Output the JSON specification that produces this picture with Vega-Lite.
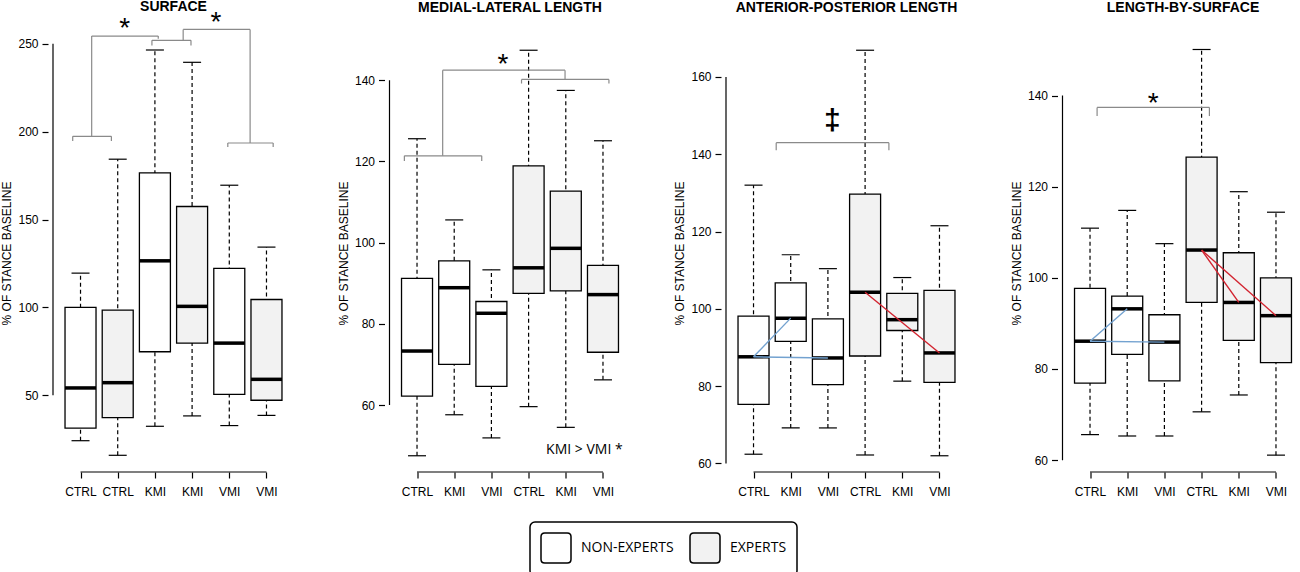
{
"$schema":"https://vega.github.io/schema/vega-lite/v6.json",
"background":"white",
"padding":{"left":0,"top":0,"right":0,"bottom":0},
"bounds":"flush",
"spacing":85.5,
"datasets":{
"boxes":[
{"panel":"p1","pos":1,"group":"NON-EXPERTS","lower":24.2,"q1":31.3,"median":54.2,"q3":100,"upper":119.5},
{"panel":"p1","pos":2,"group":"EXPERTS","lower":15.9,"q1":37.3,"median":57.2,"q3":98.5,"upper":184.3},
{"panel":"p1","pos":3,"group":"NON-EXPERTS","lower":32.4,"q1":74.8,"median":126.5,"q3":176.5,"upper":246.4},
{"panel":"p1","pos":4,"group":"EXPERTS","lower":38.3,"q1":79.7,"median":100.6,"q3":157.4,"upper":239.4},
{"panel":"p1","pos":5,"group":"NON-EXPERTS","lower":32.8,"q1":50.6,"median":79.7,"q3":122.2,"upper":169.5},
{"panel":"p1","pos":6,"group":"EXPERTS","lower":38.6,"q1":47.2,"median":59.1,"q3":104.5,"upper":134.3},
{"panel":"p2","pos":1,"group":"NON-EXPERTS","lower":47.5,"q1":62.2,"median":73.3,"q3":91.2,"upper":125.6},
{"panel":"p2","pos":2,"group":"NON-EXPERTS","lower":57.6,"q1":70.0,"median":88.9,"q3":95.5,"upper":105.6},
{"panel":"p2","pos":3,"group":"NON-EXPERTS","lower":51.9,"q1":64.6,"median":82.6,"q3":85.5,"upper":93.3},
{"panel":"p2","pos":4,"group":"EXPERTS","lower":59.6,"q1":87.5,"median":93.8,"q3":118.9,"upper":147.4},
{"panel":"p2","pos":5,"group":"EXPERTS","lower":54.5,"q1":88.1,"median":98.6,"q3":112.7,"upper":137.5},
{"panel":"p2","pos":6,"group":"EXPERTS","lower":66.2,"q1":73.0,"median":87.2,"q3":94.4,"upper":125.1},
{"panel":"p3","pos":1,"group":"NON-EXPERTS","lower":62.4,"q1":75.3,"median":87.6,"q3":98.1,"upper":132.0},
{"panel":"p3","pos":2,"group":"NON-EXPERTS","lower":69.2,"q1":91.6,"median":97.6,"q3":106.7,"upper":114.0},
{"panel":"p3","pos":3,"group":"NON-EXPERTS","lower":69.2,"q1":80.4,"median":87.3,"q3":97.4,"upper":110.4},
{"panel":"p3","pos":4,"group":"EXPERTS","lower":62.2,"q1":87.8,"median":104.3,"q3":129.7,"upper":166.9},
{"panel":"p3","pos":5,"group":"EXPERTS","lower":81.3,"q1":94.4,"median":97.2,"q3":104.0,"upper":108.1},
{"panel":"p3","pos":6,"group":"EXPERTS","lower":62.0,"q1":81.0,"median":88.6,"q3":104.8,"upper":121.5},
{"panel":"p4","pos":1,"group":"NON-EXPERTS","lower":65.6,"q1":76.9,"median":86.1,"q3":97.7,"upper":110.9},
{"panel":"p4","pos":2,"group":"NON-EXPERTS","lower":65.3,"q1":83.2,"median":93.2,"q3":96.0,"upper":114.8},
{"panel":"p4","pos":3,"group":"NON-EXPERTS","lower":65.3,"q1":77.4,"median":85.9,"q3":91.9,"upper":107.5},
{"panel":"p4","pos":4,"group":"EXPERTS","lower":70.6,"q1":94.6,"median":106.1,"q3":126.5,"upper":150.1},
{"panel":"p4","pos":5,"group":"EXPERTS","lower":74.3,"q1":86.3,"median":94.6,"q3":105.5,"upper":118.9},
{"panel":"p4","pos":6,"group":"EXPERTS","lower":61.1,"q1":81.4,"median":91.7,"q3":100.0,"upper":114.4}
],
"links":[
{"panel":"p3","group":"NON-EXPERTS","x":1,"y":87.6,"x2":2,"y2":97.6},
{"panel":"p3","group":"NON-EXPERTS","x":1,"y":87.6,"x2":3,"y2":87.3},
{"panel":"p3","group":"EXPERTS","x":4,"y":104.3,"x2":6,"y2":88.6},
{"panel":"p4","group":"NON-EXPERTS","x":1,"y":86.1,"x2":2,"y2":93.2},
{"panel":"p4","group":"NON-EXPERTS","x":1,"y":86.1,"x2":3,"y2":85.9},
{"panel":"p4","group":"EXPERTS","x":4,"y":106.1,"x2":5,"y2":94.6},
{"panel":"p4","group":"EXPERTS","x":4,"y":106.1,"x2":6,"y2":91.7}
],
"segs":[
{"panel":"p1","x":0.79,"y":197.3,"x2":1.83,"y2":197.3},
{"panel":"p1","x":0.79,"y":197.3,"x2":0.79,"y2":194.6},
{"panel":"p1","x":1.83,"y":197.3,"x2":1.83,"y2":194.6},
{"panel":"p1","x":1.30,"y":197.3,"x2":1.30,"y2":254.3},
{"panel":"p1","x":1.30,"y":254.3,"x2":3.09,"y2":254.3},
{"panel":"p1","x":3.09,"y":254.3,"x2":3.09,"y2":252.8},
{"panel":"p1","x":2.92,"y":251.9,"x2":3.97,"y2":251.9},
{"panel":"p1","x":2.92,"y":251.9,"x2":2.92,"y2":249.0},
{"panel":"p1","x":3.97,"y":251.9,"x2":3.97,"y2":249.0},
{"panel":"p1","x":3.76,"y":251.9,"x2":3.76,"y2":258.1},
{"panel":"p1","x":3.76,"y":258.1,"x2":5.56,"y2":258.1},
{"panel":"p1","x":5.56,"y":258.1,"x2":5.56,"y2":193.5},
{"panel":"p1","x":4.96,"y":193.5,"x2":6.18,"y2":193.5},
{"panel":"p1","x":4.96,"y":193.5,"x2":4.96,"y2":191.2},
{"panel":"p1","x":6.18,"y":193.5,"x2":6.18,"y2":191.2},
{"panel":"p2","x":0.66,"y":121.4,"x2":2.74,"y2":121.4},
{"panel":"p2","x":0.66,"y":121.4,"x2":0.66,"y2":120.1},
{"panel":"p2","x":2.74,"y":121.4,"x2":2.74,"y2":120.1},
{"panel":"p2","x":1.69,"y":121.4,"x2":1.69,"y2":142.5},
{"panel":"p2","x":1.69,"y":142.5,"x2":4.98,"y2":142.5},
{"panel":"p2","x":4.98,"y":142.5,"x2":4.98,"y2":140.2},
{"panel":"p2","x":3.81,"y":140.2,"x2":6.16,"y2":140.2},
{"panel":"p2","x":3.81,"y":140.2,"x2":3.81,"y2":139.2},
{"panel":"p2","x":6.16,"y":140.2,"x2":6.16,"y2":139.2},
{"panel":"p3","x":1.61,"y":143.0,"x2":4.64,"y2":143.0},
{"panel":"p3","x":1.61,"y":143.0,"x2":1.61,"y2":141.0},
{"panel":"p3","x":4.64,"y":143.0,"x2":4.64,"y2":141.0},
{"panel":"p4","x":1.19,"y":137.4,"x2":4.21,"y2":137.4},
{"panel":"p4","x":1.19,"y":137.4,"x2":1.19,"y2":135.5},
{"panel":"p4","x":4.21,"y":137.4,"x2":4.21,"y2":135.5}
],
"notes":[
{"panel":"p1","kind":"star","x":2.19,"y":262.7,"text":"*"},
{"panel":"p1","kind":"star","x":4.64,"y":266.5,"text":"*"},
{"panel":"p2","kind":"star","x":3.31,"y":145.7,"text":"*"},
{"panel":"p2","kind":"note","x":5.5,"y":48.9,"text":"KMI > VMI *"},
{"panel":"p3","kind":"dagger","x":3.12,"y":148.6,"text":"‡"},
{"panel":"p4","kind":"star","x":2.70,"y":139.9,"text":"*"}
]
},
"hconcat":[
{
"width":251,"height":438,
"title":{"text":"SURFACE","frame":"group","anchor":"middle","baseline":"alphabetic","offset":-16.6},
"layer":[
{"data":{"name":"boxes"},"transform":[{"filter":"datum.panel==='p1'"}],
 "mark":{"type":"rule","strokeDash":[4,3],"strokeWidth":1.2,"color":"black"},
 "encoding":{
  "x":{"field":"pos","type":"quantitative","scale":{"domain":[0.26,6.74],"nice":false,"zero":false},"axis":{"values":[1,2,3,4,5,6],"labelExpr":"['CTRL','CTRL','KMI','KMI','VMI','VMI'][datum.value-1]","title":null}},
  "y":{"field":"lower","type":"quantitative","scale":{"domain":[6.4,255.5],"nice":false,"zero":false},"axis":{"values":[50,100,150,200,250],"title":"% OF STANCE BASELINE"}},
  "y2":{"field":"upper"}}},
{"data":{"name":"boxes"},"transform":[{"filter":"datum.panel==='p1'"}],
 "mark":{"type":"tick","orient":"horizontal","size":18,"thickness":1.2,"color":"black","opacity":1},
 "encoding":{"x":{"field":"pos","type":"quantitative"},"y":{"field":"lower","type":"quantitative"}}},
{"data":{"name":"boxes"},"transform":[{"filter":"datum.panel==='p1'"}],
 "mark":{"type":"tick","orient":"horizontal","size":18,"thickness":1.2,"color":"black","opacity":1},
 "encoding":{"x":{"field":"pos","type":"quantitative"},"y":{"field":"upper","type":"quantitative"}}},
{"data":{"name":"boxes"},"transform":[{"filter":"datum.panel==='p1'"}],
 "mark":{"type":"bar","width":31,"stroke":"black","strokeWidth":1.3,"opacity":1},
 "encoding":{"x":{"field":"pos","type":"quantitative"},"y":{"field":"q1","type":"quantitative"},"y2":{"field":"q3"},
  "fill":{"field":"group","type":"nominal","scale":{"domain":["NON-EXPERTS","EXPERTS"],"range":["#ffffff","#f2f2f2"]},
   "legend":{"title":null,"orient":"none","legendX":482,"legendY":488,"direction":"horizontal"}}}},
{"data":{"name":"boxes"},"transform":[{"filter":"datum.panel==='p1'"}],
 "mark":{"type":"tick","orient":"horizontal","size":31,"thickness":3.5,"color":"black","opacity":1},
 "encoding":{"x":{"field":"pos","type":"quantitative"},"y":{"field":"median","type":"quantitative"}}},
{"data":{"name":"segs"},"transform":[{"filter":"datum.panel==='p1'"}],
 "mark":{"type":"rule","color":"#8a8a8a","strokeWidth":1.2},
 "encoding":{"x":{"field":"x","type":"quantitative"},"y":{"field":"y","type":"quantitative"},"x2":{"field":"x2"},"y2":{"field":"y2"}}},
{"data":{"name":"notes"},"transform":[{"filter":"datum.panel==='p1' && datum.kind==='star'"}],
 "mark":{"type":"text","font":"Liberation Sans","fontSize":28,"baseline":"middle","align":"center","dy":8,"color":"black"},
 "encoding":{"x":{"field":"x","type":"quantitative"},"y":{"field":"y","type":"quantitative"},"text":{"field":"text"}}},
{"data":{"values":[{}]},"mark":{"type":"rule","color":"black","strokeWidth":1.2},
 "encoding":{"x":{"datum":0.26},"y":{"datum":50},"y2":{"datum":250}}},
{"data":{"values":[{}]},"mark":{"type":"rule","color":"black","strokeWidth":1.2},
 "encoding":{"x":{"datum":1},"x2":{"datum":6},"y":{"datum":6.4}}}
]
},
{
"width":251,"height":438,
"title":{"text":"MEDIAL-LATERAL LENGTH","frame":"group","anchor":"middle","baseline":"alphabetic","offset":8.4},
"layer":[
{"data":{"name":"boxes"},"transform":[{"filter":"datum.panel==='p2'"}],
 "mark":{"type":"rule","strokeDash":[4,3],"strokeWidth":1.2,"color":"black"},
 "encoding":{
  "x":{"field":"pos","type":"quantitative","scale":{"domain":[0.26,6.74],"nice":false,"zero":false},"axis":{"values":[1,2,3,4,5,6],"labelExpr":"['CTRL','KMI','VMI','CTRL','KMI','VMI'][datum.value-1]","title":null}},
  "y":{"field":"lower","type":"quantitative","scale":{"domain":[43.5,151.4],"nice":false,"zero":false},"axis":{"values":[60,80,100,120,140],"title":"% OF STANCE BASELINE"}},
  "y2":{"field":"upper"}}},
{"data":{"name":"boxes"},"transform":[{"filter":"datum.panel==='p2'"}],
 "mark":{"type":"tick","orient":"horizontal","size":18,"thickness":1.2,"color":"black","opacity":1},
 "encoding":{"x":{"field":"pos","type":"quantitative"},"y":{"field":"lower","type":"quantitative"}}},
{"data":{"name":"boxes"},"transform":[{"filter":"datum.panel==='p2'"}],
 "mark":{"type":"tick","orient":"horizontal","size":18,"thickness":1.2,"color":"black","opacity":1},
 "encoding":{"x":{"field":"pos","type":"quantitative"},"y":{"field":"upper","type":"quantitative"}}},
{"data":{"name":"boxes"},"transform":[{"filter":"datum.panel==='p2'"}],
 "mark":{"type":"bar","width":31,"stroke":"black","strokeWidth":1.3,"opacity":1},
 "encoding":{"x":{"field":"pos","type":"quantitative"},"y":{"field":"q1","type":"quantitative"},"y2":{"field":"q3"},
  "fill":{"field":"group","type":"nominal","scale":{"domain":["NON-EXPERTS","EXPERTS"],"range":["#ffffff","#f2f2f2"]}}}},
{"data":{"name":"boxes"},"transform":[{"filter":"datum.panel==='p2'"}],
 "mark":{"type":"tick","orient":"horizontal","size":31,"thickness":3.5,"color":"black","opacity":1},
 "encoding":{"x":{"field":"pos","type":"quantitative"},"y":{"field":"median","type":"quantitative"}}},
{"data":{"name":"segs"},"transform":[{"filter":"datum.panel==='p2'"}],
 "mark":{"type":"rule","color":"#8a8a8a","strokeWidth":1.2},
 "encoding":{"x":{"field":"x","type":"quantitative"},"y":{"field":"y","type":"quantitative"},"x2":{"field":"x2"},"y2":{"field":"y2"}}},
{"data":{"name":"notes"},"transform":[{"filter":"datum.panel==='p2' && datum.kind==='star'"}],
 "mark":{"type":"text","font":"Liberation Sans","fontSize":28,"baseline":"middle","align":"center","dy":8,"color":"black"},
 "encoding":{"x":{"field":"x","type":"quantitative"},"y":{"field":"y","type":"quantitative"},"text":{"field":"text"}}},
{"data":{"name":"notes"},"transform":[{"filter":"datum.panel==='p2' && datum.kind==='note'"}],
 "mark":{"type":"text","font":"Open Sans","fontSize":14,"baseline":"middle","align":"center","color":"black"},
 "encoding":{"x":{"field":"x","type":"quantitative"},"y":{"field":"y","type":"quantitative"},"text":{"field":"text"}}},
{"data":{"values":[{}]},"mark":{"type":"rule","color":"black","strokeWidth":1.2},
 "encoding":{"x":{"datum":0.26},"y":{"datum":60},"y2":{"datum":140}}},
{"data":{"values":[{}]},"mark":{"type":"rule","color":"black","strokeWidth":1.2},
 "encoding":{"x":{"datum":1},"x2":{"datum":6},"y":{"datum":43.5}}}
]
},
{
"width":251,"height":438,
"title":{"text":"ANTERIOR-POSTERIOR LENGTH","frame":"group","anchor":"middle","baseline":"alphabetic","offset":8.4},
"layer":[
{"data":{"name":"boxes"},"transform":[{"filter":"datum.panel==='p3'"}],
 "mark":{"type":"rule","strokeDash":[4,3],"strokeWidth":1.2,"color":"black"},
 "encoding":{
  "x":{"field":"pos","type":"quantitative","scale":{"domain":[0.26,6.74],"nice":false,"zero":false},"axis":{"values":[1,2,3,4,5,6],"labelExpr":"['CTRL','KMI','VMI','CTRL','KMI','VMI'][datum.value-1]","title":null}},
  "y":{"field":"lower","type":"quantitative","scale":{"domain":[57.8,171.1],"nice":false,"zero":false},"axis":{"values":[60,80,100,120,140,160],"title":"% OF STANCE BASELINE"}},
  "y2":{"field":"upper"}}},
{"data":{"name":"boxes"},"transform":[{"filter":"datum.panel==='p3'"}],
 "mark":{"type":"tick","orient":"horizontal","size":18,"thickness":1.2,"color":"black","opacity":1},
 "encoding":{"x":{"field":"pos","type":"quantitative"},"y":{"field":"lower","type":"quantitative"}}},
{"data":{"name":"boxes"},"transform":[{"filter":"datum.panel==='p3'"}],
 "mark":{"type":"tick","orient":"horizontal","size":18,"thickness":1.2,"color":"black","opacity":1},
 "encoding":{"x":{"field":"pos","type":"quantitative"},"y":{"field":"upper","type":"quantitative"}}},
{"data":{"name":"boxes"},"transform":[{"filter":"datum.panel==='p3'"}],
 "mark":{"type":"bar","width":31,"stroke":"black","strokeWidth":1.3,"opacity":1},
 "encoding":{"x":{"field":"pos","type":"quantitative"},"y":{"field":"q1","type":"quantitative"},"y2":{"field":"q3"},
  "fill":{"field":"group","type":"nominal","scale":{"domain":["NON-EXPERTS","EXPERTS"],"range":["#ffffff","#f2f2f2"]}}}},
{"data":{"name":"boxes"},"transform":[{"filter":"datum.panel==='p3'"}],
 "mark":{"type":"tick","orient":"horizontal","size":31,"thickness":3.5,"color":"black","opacity":1},
 "encoding":{"x":{"field":"pos","type":"quantitative"},"y":{"field":"median","type":"quantitative"}}},
{"data":{"name":"links"},"transform":[{"filter":"datum.panel==='p3' && datum.group==='NON-EXPERTS'"}],
 "mark":{"type":"rule","strokeWidth":1.4,"color":"#73a2d0"},
 "encoding":{"x":{"field":"x","type":"quantitative"},"y":{"field":"y","type":"quantitative"},"x2":{"field":"x2"},"y2":{"field":"y2"}}},
{"data":{"name":"links"},"transform":[{"filter":"datum.panel==='p3' && datum.group==='EXPERTS'"}],
 "mark":{"type":"rule","strokeWidth":1.4,"color":"#d2232f"},
 "encoding":{"x":{"field":"x","type":"quantitative"},"y":{"field":"y","type":"quantitative"},"x2":{"field":"x2"},"y2":{"field":"y2"}}},
{"data":{"name":"segs"},"transform":[{"filter":"datum.panel==='p3'"}],
 "mark":{"type":"rule","color":"#8a8a8a","strokeWidth":1.2},
 "encoding":{"x":{"field":"x","type":"quantitative"},"y":{"field":"y","type":"quantitative"},"x2":{"field":"x2"},"y2":{"field":"y2"}}},
{"data":{"name":"notes"},"transform":[{"filter":"datum.panel==='p3' && datum.kind==='dagger'"}],
 "mark":{"type":"text","font":"Liberation Sans","fontSize":30,"fontWeight":"bold","baseline":"middle","align":"center","dy":0,"color":"black"},
 "encoding":{"x":{"field":"x","type":"quantitative"},"y":{"field":"y","type":"quantitative"},"text":{"field":"text"}}},
{"data":{"values":[{}]},"mark":{"type":"rule","color":"black","strokeWidth":1.2},
 "encoding":{"x":{"datum":0.26},"y":{"datum":60},"y2":{"datum":160}}},
{"data":{"values":[{}]},"mark":{"type":"rule","color":"black","strokeWidth":1.2},
 "encoding":{"x":{"datum":1},"x2":{"datum":6},"y":{"datum":57.8}}}
]
},
{
"width":251,"height":438,
"title":{"text":"LENGTH-BY-SURFACE","frame":"group","anchor":"middle","baseline":"alphabetic","offset":8.4},
"layer":[
{"data":{"name":"boxes"},"transform":[{"filter":"datum.panel==='p4'"}],
 "mark":{"type":"rule","strokeDash":[4,3],"strokeWidth":1.2,"color":"black"},
 "encoding":{
  "x":{"field":"pos","type":"quantitative","scale":{"domain":[0.26,6.74],"nice":false,"zero":false},"axis":{"values":[1,2,3,4,5,6],"labelExpr":"['CTRL','KMI','VMI','CTRL','KMI','VMI'][datum.value-1]","title":null}},
  "y":{"field":"lower","type":"quantitative","scale":{"domain":[57.4,153.5],"nice":false,"zero":false},"axis":{"values":[60,80,100,120,140],"title":"% OF STANCE BASELINE"}},
  "y2":{"field":"upper"}}},
{"data":{"name":"boxes"},"transform":[{"filter":"datum.panel==='p4'"}],
 "mark":{"type":"tick","orient":"horizontal","size":18,"thickness":1.2,"color":"black","opacity":1},
 "encoding":{"x":{"field":"pos","type":"quantitative"},"y":{"field":"lower","type":"quantitative"}}},
{"data":{"name":"boxes"},"transform":[{"filter":"datum.panel==='p4'"}],
 "mark":{"type":"tick","orient":"horizontal","size":18,"thickness":1.2,"color":"black","opacity":1},
 "encoding":{"x":{"field":"pos","type":"quantitative"},"y":{"field":"upper","type":"quantitative"}}},
{"data":{"name":"boxes"},"transform":[{"filter":"datum.panel==='p4'"}],
 "mark":{"type":"bar","width":31,"stroke":"black","strokeWidth":1.3,"opacity":1},
 "encoding":{"x":{"field":"pos","type":"quantitative"},"y":{"field":"q1","type":"quantitative"},"y2":{"field":"q3"},
  "fill":{"field":"group","type":"nominal","scale":{"domain":["NON-EXPERTS","EXPERTS"],"range":["#ffffff","#f2f2f2"]}}}},
{"data":{"name":"boxes"},"transform":[{"filter":"datum.panel==='p4'"}],
 "mark":{"type":"tick","orient":"horizontal","size":31,"thickness":3.5,"color":"black","opacity":1},
 "encoding":{"x":{"field":"pos","type":"quantitative"},"y":{"field":"median","type":"quantitative"}}},
{"data":{"name":"links"},"transform":[{"filter":"datum.panel==='p4' && datum.group==='NON-EXPERTS'"}],
 "mark":{"type":"rule","strokeWidth":1.4,"color":"#73a2d0"},
 "encoding":{"x":{"field":"x","type":"quantitative"},"y":{"field":"y","type":"quantitative"},"x2":{"field":"x2"},"y2":{"field":"y2"}}},
{"data":{"name":"links"},"transform":[{"filter":"datum.panel==='p4' && datum.group==='EXPERTS'"}],
 "mark":{"type":"rule","strokeWidth":1.4,"color":"#d2232f"},
 "encoding":{"x":{"field":"x","type":"quantitative"},"y":{"field":"y","type":"quantitative"},"x2":{"field":"x2"},"y2":{"field":"y2"}}},
{"data":{"name":"segs"},"transform":[{"filter":"datum.panel==='p4'"}],
 "mark":{"type":"rule","color":"#8a8a8a","strokeWidth":1.2},
 "encoding":{"x":{"field":"x","type":"quantitative"},"y":{"field":"y","type":"quantitative"},"x2":{"field":"x2"},"y2":{"field":"y2"}}},
{"data":{"name":"notes"},"transform":[{"filter":"datum.panel==='p4' && datum.kind==='star'"}],
 "mark":{"type":"text","font":"Liberation Sans","fontSize":28,"baseline":"middle","align":"center","dy":8,"color":"black"},
 "encoding":{"x":{"field":"x","type":"quantitative"},"y":{"field":"y","type":"quantitative"},"text":{"field":"text"}}},
{"data":{"values":[{}]},"mark":{"type":"rule","color":"black","strokeWidth":1.2},
 "encoding":{"x":{"datum":0.26},"y":{"datum":60},"y2":{"datum":140}}},
{"data":{"values":[{}]},"mark":{"type":"rule","color":"black","strokeWidth":1.2},
 "encoding":{"x":{"datum":1},"x2":{"datum":6},"y":{"datum":57.4}}}
]
}
],
"resolve":{"scale":{"x":"independent","y":"independent","fill":"shared"},"axis":{"x":"independent","y":"independent"},"legend":{"fill":"shared"}},
"config":{
 "view":{"stroke":null},
 "font":"Liberation Sans",
 "title":{"font":"Liberation Sans","fontSize":14,"fontWeight":"bold","color":"black"},
 "axis":{"domain":false,"grid":false,"tickColor":"black","tickWidth":1.2,"tickSize":6,"labelFont":"Liberation Sans","labelFontSize":12,"labelColor":"black","titleFont":"Liberation Sans","titleFontSize":12,"titleFontWeight":"normal","titleColor":"black"},
 "axisX":{"labelPadding":8,"labelAngle":0},
 "axisY":{"labelPadding":4,"titlePadding":4},
 "legend":{"symbolType":"M -1 -0.75 Q -1 -1 -0.75 -1 L 0.75 -1 Q 1 -1 1 -0.75 L 1 0.75 Q 1 1 0.75 1 L -0.75 1 Q -1 1 -1 0.75 Z","symbolSize":900,"symbolStrokeColor":"black","symbolStrokeWidth":1.5,"labelFont":"Open Sans","labelFontSize":14,"labelColor":"black","labelOffset":9,"columnPadding":13,"padding":10,"strokeColor":"black","cornerRadius":5,"strokeWidth":1.5}
}
}
